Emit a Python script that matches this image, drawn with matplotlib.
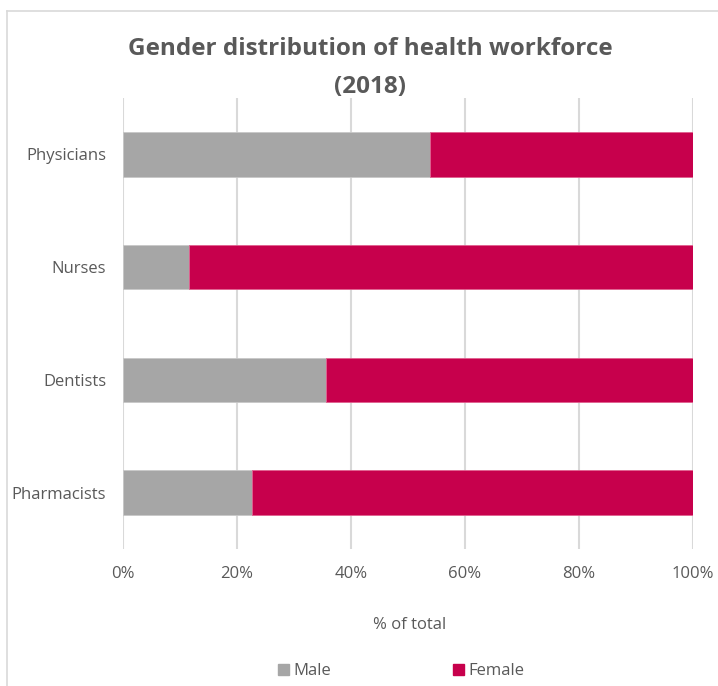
import matplotlib
matplotlib.use("Agg")
import matplotlib.pyplot as plt
from matplotlib.patches import Rectangle
from matplotlib.lines import Line2D

categories = ["Physicians", "Nurses", "Dentists", "Pharmacists"]
male = [53.8, 11.5, 35.6, 22.6]
female = [100 - m for m in male]
xticks = [0, 20, 40, 60, 80, 100]
xtick_labels = ["0%", "20%", "40%", "60%", "80%", "100%"]

GRAY = "#a6a6a6"
RED = "#c7004c"
TXT = "#595959"
GRID = "#d9d9d9"

plt.rcParams['font.family'] = ['Open Sans', 'DejaVu Sans']

W, H = 718, 686
fig = plt.figure(figsize=(W / 100, H / 100), dpi=100)

# axes: x 123..693, y 98..549 (pixels from top)
ax = fig.add_axes([123 / W, 1 - 549 / H, 570 / W, 451 / H])
y = list(range(len(categories)))
ax.barh(y, male, height=0.395, color=GRAY, edgecolor="#c8c8c8", linewidth=0.6, zorder=3, label="Male")
ax.barh(y, female, left=male, height=0.395, color=RED, edgecolor="#e0608f", linewidth=0.6, zorder=3, label="Female")
ax.set_ylim(len(categories) - 0.5, -0.5)
ax.set_xlim(0, 100)
ax.set_yticks(y)
ax.set_yticklabels(categories, fontsize=12, color=TXT)
ax.set_xticks(xticks)
ax.set_xticklabels(xtick_labels, fontsize=12, color=TXT)
ax.tick_params(axis='y', length=0, pad=12)
ax.tick_params(axis='x', length=0, pad=12)
ax.xaxis.grid(True, color=GRID, linewidth=1.5, zorder=0)
for s in ax.spines.values():
    s.set_visible(False)

# title
fig.text(370 / W, 1 - 49 / H, "Gender distribution of health workforce", ha="center", va="center",
         fontsize=17.5, fontweight="bold", color=TXT)
fig.text(370 / W, 1 - 87 / H, "(2018)", ha="center", va="center",
         fontsize=17.5, fontweight="bold", color=TXT)

# x-axis title
fig.text(410 / W, 1 - 625 / H, "% of total", ha="center", va="center", fontsize=12, color=TXT)

# legend
handles = [Rectangle((0, 0), 1, 1, color=GRAY), Rectangle((0, 0), 1, 1, color=RED)]
leg = fig.legend(handles, ["Male", "Female"], loc="center", bbox_to_anchor=(401 / W, 1 - 671 / H),
                 ncol=2, frameon=False, fontsize=12, handlelength=0.66, handleheight=0.66,
                 handletextpad=0.25, columnspacing=7.3, labelcolor=TXT, borderpad=0)

# chart frame
fig.add_artist(Line2D([7 / W, 7 / W], [0, 1 - 11 / H], transform=fig.transFigure, color=GRID, linewidth=1.2))
fig.add_artist(Line2D([7 / W, 1], [1 - 11 / H, 1 - 11 / H], transform=fig.transFigure, color=GRID, linewidth=1.2))

fig.savefig("out.png", dpi=100, facecolor="white")
